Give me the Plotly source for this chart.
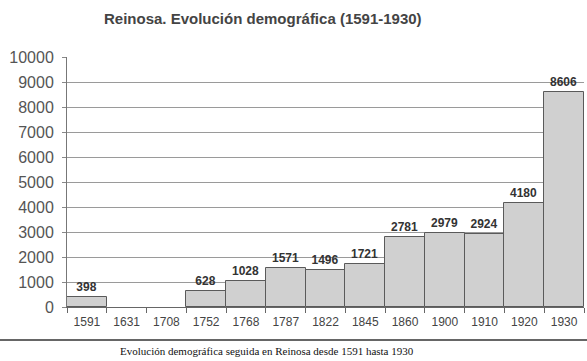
import plotly.graph_objects as go

years = ["1591", "1631", "1708", "1752", "1768", "1787", "1822", "1845", "1860", "1900", "1910", "1920", "1930"]
population = [398, None, None, 628, 1028, 1571, 1496, 1721, 2781, 2979, 2924, 4180, 8606]
y_ticks = [0, 1000, 2000, 3000, 4000, 5000, 6000, 7000, 8000, 9000, 10000]
y_tick_labels = [str(v) for v in y_ticks]

W, H = 587, 361
L, R, T, B = 67, 3, 57, 54
pw = W - L - R

def px_to_paper_x(px):
    return (px - L) / pw

def px_to_paper_y(py):
    return (H - B - py) / (H - T - B)

fig = go.Figure()
fig.add_trace(go.Bar(
    x=years,
    y=population,
    marker=dict(color="#d0d0d0", line=dict(color="#5a5a5a", width=1)),
    text=[("" if v is None else str(v)) for v in population],
    textposition="outside",
    textfont=dict(family="Liberation Sans", size=12, color="#333333", weight="bold"),
    cliponaxis=False,
    hoverinfo="skip",
))

fig.update_layout(
    width=W, height=H,
    margin=dict(l=L, r=R, t=T, b=B),
    paper_bgcolor="white",
    plot_bgcolor="white",
    bargap=0,
    showlegend=False,
    xaxis=dict(
        type="category",
        tickson="boundaries",
        ticks="outside",
        ticklen=5,
        tickcolor="#666666",
        showline=True,
        linecolor="#666666",
        linewidth=1,
        showgrid=False,
        ticklabelstandoff=4,
        tickfont=dict(family="Liberation Sans", size=12, color="#444444"),
    ),
    yaxis=dict(
        range=[0, 10000],
        tickvals=y_ticks,
        ticktext=y_tick_labels,
        ticks="outside",
        ticklen=4,
        tickcolor="#888888",
        showline=True,
        linecolor="#777777",
        linewidth=1,
        showgrid=True,
        gridcolor="#9a9a9a",
        gridwidth=1,
        zeroline=False,
        ticklabelstandoff=5,
        tickfont=dict(family="Liberation Sans", size=16, color="#555555"),
    ),
    annotations=[
        dict(
            text="<b>Reinosa. Evolución demográfica (1591-1930)</b>",
            xref="paper", yref="paper",
            x=px_to_paper_x(263), y=px_to_paper_y(18),
            xanchor="center", yanchor="middle",
            showarrow=False,
            font=dict(family="Liberation Sans", size=15, color="#444444"),
        ),
        dict(
            text="Evolución demográfica seguida en Reinosa desde 1591 hasta 1930",
            xref="paper", yref="paper",
            x=px_to_paper_x(267), y=px_to_paper_y(351),
            xanchor="center", yanchor="middle",
            showarrow=False,
            font=dict(family="Liberation Serif", size=11, color="#111111"),
        ),
    ],
    shapes=[
        dict(
            type="line", xref="paper", yref="paper",
            x0=px_to_paper_x(0), x1=px_to_paper_x(W),
            y0=px_to_paper_y(340), y1=px_to_paper_y(340),
            line=dict(color="#666666", width=2),
        ),
    ],
)

fig.write_html(
    "out.html",
    config={"displayModeBar": False},
    post_script="document.body.style.margin='0';document.body.style.overflow='hidden';",
)
